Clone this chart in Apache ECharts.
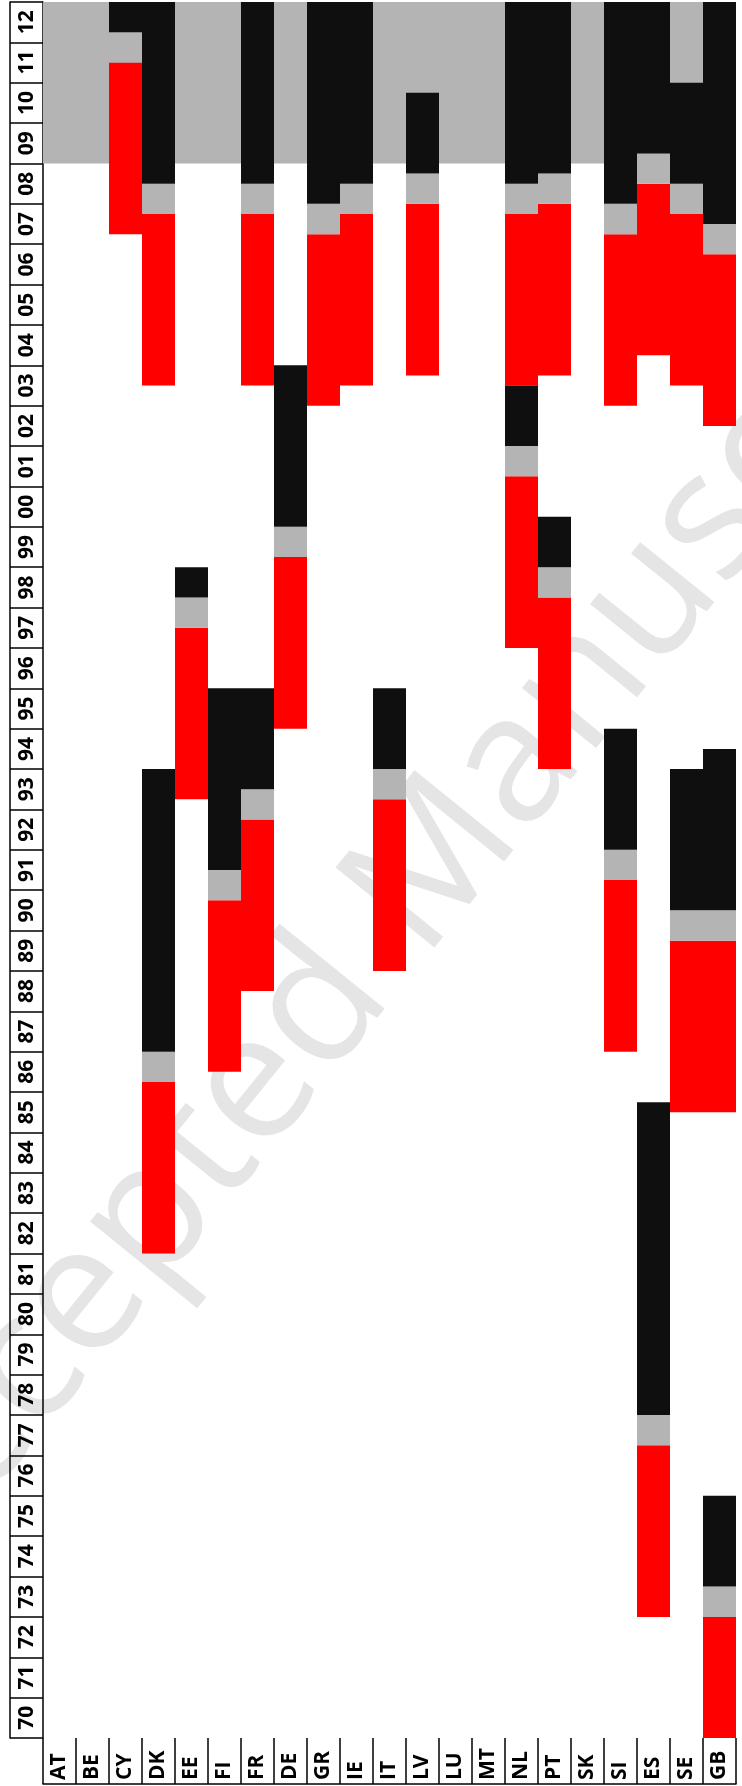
<!DOCTYPE html>
<html>
<head>
<meta charset="utf-8">
<script src="https://cdn.jsdelivr.net/npm/echarts@6/dist/echarts.min.js"></script>
<style>
html,body{margin:0;padding:0;background:#fff;}
#chart{width:742px;height:1786px;}
</style>
</head>
<body>
<div id="chart"></div>
<script>
const countries = ['AT','BE','CY','DK','EE','FI','FR','DE','GR','IE','IT','LV','LU','MT','NL','PT','SK','SI','ES','SE','GB'];
const yearLabels = ['70','71','72','73','74','75','76','77','78','79','80','81','82','83','84','85','86','87','88','89',
  '90','91','92','93','94','95','96','97','98','99','00','01','02','03','04','05','06','07','08','09','10','11','12'];
const yearMin = 1970;
const yearMax = 2013;
const crisisPeriod = [2009, 2013];

const redPeriods = [
  ['CY', 2007.25, 2011.5],
  ['DK', 1982.0, 1986.25], ['DK', 2003.5, 2007.75],
  ['EE', 1993.25, 1997.5],
  ['FI', 1986.5, 1990.75],
  ['FR', 1988.5, 1992.75], ['FR', 2003.5, 2007.75],
  ['DE', 1995.0, 1999.25],
  ['GR', 2003.0, 2007.25],
  ['IE', 2003.5, 2007.75],
  ['IT', 1989.0, 1993.25],
  ['LV', 2003.75, 2008.0],
  ['NL', 1997.0, 2001.25], ['NL', 2003.5, 2007.75],
  ['PT', 1994.0, 1998.25], ['PT', 2003.75, 2008.0],
  ['SI', 1987.0, 1991.25], ['SI', 2003.0, 2007.25],
  ['ES', 1973.0, 1977.25], ['ES', 2004.25, 2008.5],
  ['SE', 1985.5, 1989.75], ['SE', 2003.5, 2007.75],
  ['GB', 1970.0, 1973.0], ['GB', 1985.5, 1989.75], ['GB', 2002.5, 2006.75]
];
const grayPeriods = [
  ['CY', 2011.5, 2012.25],
  ['DK', 1986.25, 1987.0], ['DK', 2007.75, 2008.5],
  ['EE', 1997.5, 1998.25],
  ['FI', 1990.75, 1991.5],
  ['FR', 1992.75, 1993.5], ['FR', 2007.75, 2008.5],
  ['DE', 1999.25, 2000.0],
  ['GR', 2007.25, 2008.0],
  ['IE', 2007.75, 2008.5],
  ['IT', 1993.25, 1994.0],
  ['LV', 2008.0, 2008.75],
  ['NL', 2001.25, 2002.0], ['NL', 2007.75, 2008.5],
  ['PT', 1998.25, 1999.0], ['PT', 2008.0, 2008.75],
  ['SI', 1991.25, 1992.0], ['SI', 2007.25, 2008.0],
  ['ES', 1977.25, 1978.0], ['ES', 2008.5, 2009.25],
  ['SE', 1989.75, 1990.5], ['SE', 2007.75, 2008.5],
  ['GB', 1973.0, 1973.75], ['GB', 1989.75, 1990.5], ['GB', 2006.75, 2007.5]
];
const blackPeriods = [
  ['CY', 2012.25, 2013.0],
  ['DK', 1987.0, 1994.0], ['DK', 2008.5, 2013.0],
  ['EE', 1998.25, 1999.0],
  ['FI', 1991.5, 1996.0],
  ['FR', 1993.5, 1996.0], ['FR', 2008.5, 2013.0],
  ['DE', 2000.0, 2004.0],
  ['GR', 2008.0, 2013.0],
  ['IE', 2008.5, 2013.0],
  ['IT', 1994.0, 1996.0],
  ['LV', 2008.75, 2010.75],
  ['NL', 2002.0, 2003.5], ['NL', 2008.5, 2013.0],
  ['PT', 1999.0, 2000.25], ['PT', 2008.75, 2013.0],
  ['SI', 1992.0, 1995.0], ['SI', 2008.0, 2013.0],
  ['ES', 1978.0, 1985.75], ['ES', 2009.25, 2013.0],
  ['SE', 1990.5, 1994.0], ['SE', 2008.5, 2011.0],
  ['GB', 1973.75, 1976.0], ['GB', 1990.5, 1994.5], ['GB', 2007.5, 2013.0]
];

const backgroundCells = countries.map(c => [c, crisisPeriod[0], crisisPeriod[1]]);

function makeRender(color) {
  return function (params, api) {
    const idx = api.value(0);
    const top = api.coord([idx, api.value(2)]);
    const bottom = api.coord([idx, api.value(1)]);
    const w = api.size([1, 0])[0];
    return {
      type: 'rect',
      shape: { x: top[0] - w / 2, y: top[1], width: w, height: bottom[1] - top[1] },
      style: { fill: color }
    };
  };
}

function periodSeries(name, data, color, z) {
  return {
    name: name,
    type: 'custom',
    xAxisIndex: 0,
    yAxisIndex: 0,
    z: z,
    silent: true,
    renderItem: makeRender(color),
    encode: { x: 0, y: [1, 2] },
    data: data
  };
}

const labelFont = { fontFamily: '"Open Sans"', fontWeight: 'bold', fontSize: 21, color: '#000' };

const chart = echarts.init(document.getElementById('chart'), null, { renderer: 'canvas' });
chart.setOption({
  animation: false,
  backgroundColor: '#fff',
  grid: { left: 43, right: 6, top: 2, bottom: 48, containLabel: false },
  xAxis: [
    {
      type: 'category',
      data: countries,
      position: 'bottom',
      axisLine: { show: false },
      axisTick: { show: true, interval: 0, length: 46, lineStyle: { color: '#000', width: 1.5 } },
      axisLabel: Object.assign({ interval: 0, rotate: 90, margin: 42, align: 'left', verticalAlign: 'middle' }, labelFont),
      splitLine: { show: false }
    },
    {
      type: 'category',
      data: countries,
      position: 'bottom',
      offset: 46,
      axisLine: { show: true, lineStyle: { color: '#000', width: 1.5 } },
      axisTick: { show: false },
      axisLabel: { show: false },
      splitLine: { show: false }
    }
  ],
  yAxis: [
    {
      type: 'value',
      min: yearMin,
      max: yearMax,
      show: false
    },
    {
      type: 'category',
      data: yearLabels,
      position: 'left',
      axisLine: { show: true, lineStyle: { color: '#000', width: 1.5 } },
      axisTick: { show: true, interval: 0, length: 33, lineStyle: { color: '#000', width: 1.5 } },
      axisLabel: Object.assign({ interval: 0, rotate: 90, margin: 16, align: 'center', verticalAlign: 'middle' }, labelFont),
      splitLine: { show: false }
    },
    {
      type: 'category',
      data: yearLabels,
      position: 'left',
      offset: 33,
      axisLine: { show: true, lineStyle: { color: '#000', width: 1.5 } },
      axisTick: { show: false },
      axisLabel: { show: false },
      splitLine: { show: false }
    }
  ],
  graphic: [
    {
      type: 'text',
      x: -126,
      y: 1559,
      rotation: 51 * Math.PI / 180,
      z: -10,
      silent: true,
      style: {
        text: 'Accepted Manuscript',
        font: '178px "Open Sans"',
        fill: '#e5e5e5',
        textAlign: 'left',
        textVerticalAlign: 'middle'
      }
    }
  ],
  series: [
    periodSeries('crisis', backgroundCells, '#b4b4b4', 1),
    periodSeries('red', redPeriods, '#ff0000', 3),
    periodSeries('gray', grayPeriods, '#b4b4b4', 3),
    periodSeries('black', blackPeriods, '#0f0f0f', 3)
  ]
});
</script>
</body>
</html>
